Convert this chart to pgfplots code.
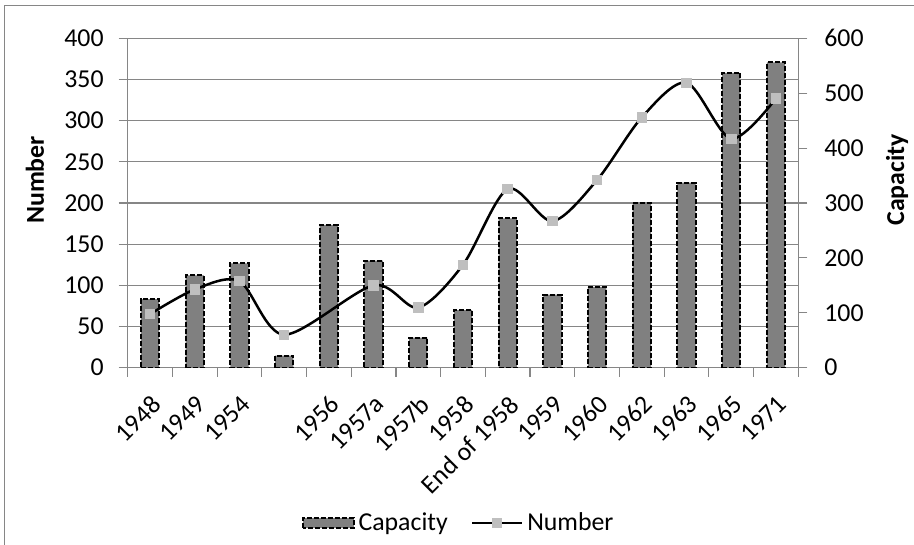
\documentclass[border=0pt]{standalone}
\usepackage{fontspec}
\setmainfont{Carlito}
\usepackage{pgfplots}
\pgfplotsset{compat=1.18}
\definecolor{gridgray}{HTML}{868686}
\definecolor{barfill}{HTML}{808080}
\definecolor{markgray}{HTML}{BFBFBF}

\pgfplotsset{
  base/.style={
    at={(63.85pt,88.65pt)}, anchor=south west, scale only axis,
    width=335.3pt, height=164.7pt, xmin=-0.5, xmax=14.5,
    /pgf/number format/assume math mode=true,
    tick align=outside,
    major tick length=4.5pt, minor tick length=4.5pt,
    tick style={draw=gridgray, line width=0.6pt},
    axis line style={draw=gridgray, line width=0.6pt},
    tick label style={font=\fontsize{12.9}{15}\selectfont},
    label style={font=\fontsize{12.9}{15}\selectfont\bfseries},
  },
}

\begin{document}
\begin{tikzpicture}
\useasboundingbox (0,0) rectangle (457pt,272.5pt);
% chart frame
\draw[gridgray, line width=0.5pt] (2pt,-5pt) -- (2pt,269.5pt) -- (465pt,269.5pt);

% left scale: grid, Number axis and category axis
\begin{axis}[base,
  ymin=0, ymax=400, ytick={0,50,...,400},
  axis x line*=bottom, axis y line*=left,
  ymajorgrids, grid style={draw=gridgray, line width=0.6pt},
  xtick={0,...,14},
  xticklabels={1948,1949,1954,,1956,1957a,1957b,1958,End of 1958,1959,1960,1962,1963,1965,1971},
  major x tick style={draw=none},
  minor xtick={-0.5,0.5,...,14.5},
  xticklabel style={yshift=-7pt, rotate=45, anchor=north east, inner sep=1pt},
  yticklabel style={xshift=-4pt},
  ylabel={Number},
  ylabel style={at={(axis description cs:-0.1382,0.57)}, anchor=center},
]
\addplot[draw=none] coordinates {(0,0)};
\end{axis}

% right scale: Capacity bars
\begin{axis}[base,
  ymin=0, ymax=600, ytick={0,100,...,600},
  axis y line*=right, axis x line=none,
  ybar, bar width=0.41,
  yticklabel style={xshift=5pt},
  ylabel={Capacity},
  ylabel style={at={(axis description cs:1.1472,0.57)}, anchor=center},
]
\addplot[fill=barfill, draw=black, line width=1pt, dash pattern=on 2.5pt off 1pt]
  coordinates {(0,125) (1,168) (2,190) (3,22) (4,260) (5,195) (6,55) (7,105)
               (8,272) (9,133) (10,147) (11,300) (12,337) (13,537) (14,556)};
\end{axis}

% Number line on the left scale, with the legend
\begin{axis}[base,
  ymin=0, ymax=400, hide axis,
  legend columns=2,
  legend style={draw=none, fill=none, at={(0.4948,-0.471)}, anchor=center,
    font=\fontsize{12.9}{15}\selectfont,
    /tikz/every even column/.append style={column sep=9.5pt}},
]
\addlegendimage{legend image code/.code={
  \draw[fill=barfill, draw=black, line width=1pt, dash pattern=on 2.5pt off 1pt]
    (0pt,-2.5pt) rectangle (25.5pt,2.5pt);}}
\addlegendentry{Capacity}
\addplot[black, line width=1.25pt, smooth,
  mark=square*, mark size=2pt, mark options={draw=markgray, fill=markgray},
  legend image code/.code={
    \draw[black, line width=1.25pt] (0pt,0pt) -- (25pt,0pt);
    \fill[markgray] (10.5pt,-2pt) rectangle (14.5pt,2pt);}]
  coordinates {(0,65) (1,95) (2,105) (3,40) (5,100) (6,73) (7,125) (8,217)
               (9,178) (10,228) (11,304) (12,346) (13,278) (14,327)};
\addlegendentry{Number}
\end{axis}
\end{tikzpicture}
\end{document}
